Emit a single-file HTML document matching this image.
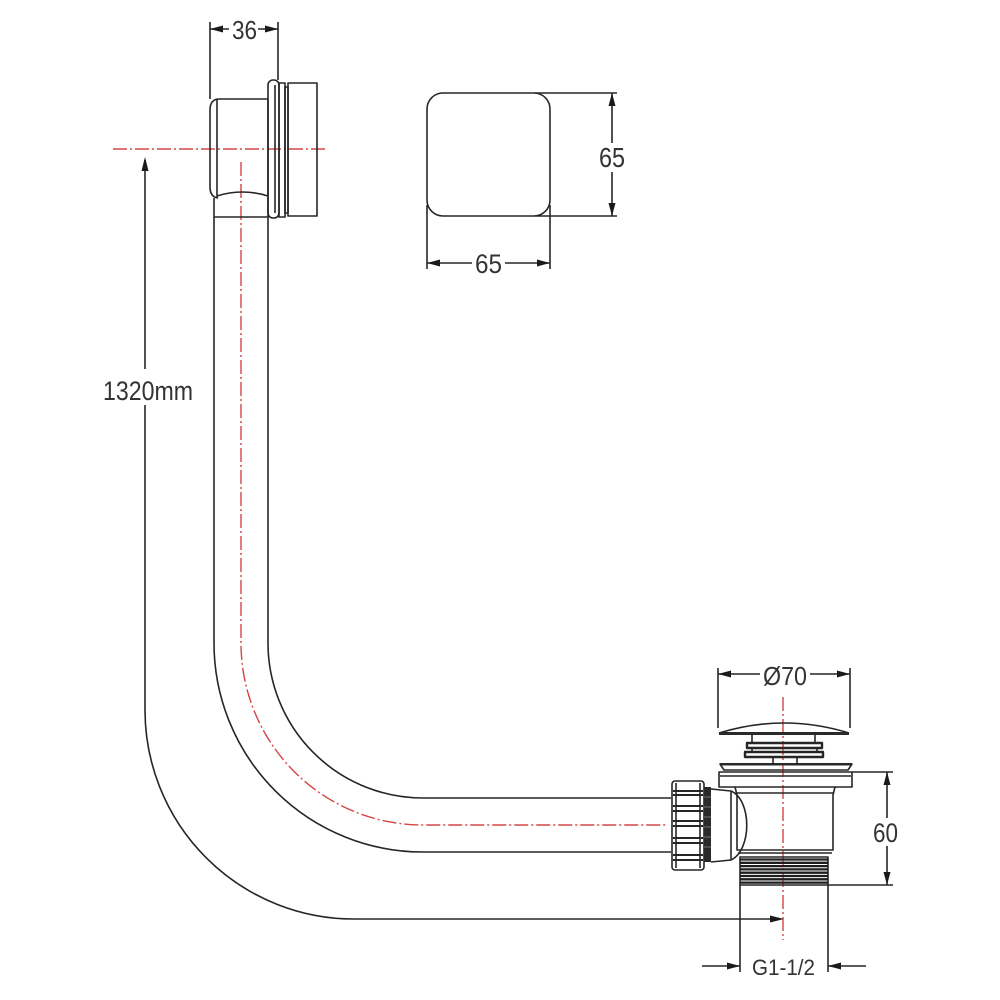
<!DOCTYPE html>
<html>
<head>
<meta charset="utf-8">
<style>
html,body{margin:0;padding:0;background:#fff;}
svg{display:block;}
text{font-family:"Liberation Sans","DejaVu Sans",sans-serif;fill:#333;}
</style>
</head>
<body>
<svg width="1000" height="1000" viewBox="0 0 1000 1000" xmlns="http://www.w3.org/2000/svg">
<rect width="1000" height="1000" fill="#fff"/>

<!-- Red center lines -->
<g stroke="#d64545" stroke-width="1.4" fill="none" stroke-dasharray="14 3 2 3">
  <path d="M113 149 H328"/>
  <path d="M241 162 V643 A182 182 0 0 0 423 825 H668"/>
  <path d="M783 697 V940"/>
</g>

<g stroke="#262626" stroke-width="1.6" fill="none" stroke-linejoin="round">
  <!-- Pipe -->
  <path d="M214 198 V643 A209 209 0 0 0 423 852 H671"/>
  <path d="M268 217 V643 A155 155 0 0 0 423 798 H671"/>
  <path d="M214 217 H268"/>

  <!-- Overflow head body -->
  <path d="M268 99 H218 Q210 100 210 110 V187 Q210 197 218 198"/>
  <path d="M217 99 V198"/>
  <path d="M217 196 Q242 188 268 196"/>
  <path d="M268 99 V217"/>
  <!-- flange -->
  <rect x="268" y="80" width="11" height="138" rx="5"/>
  <path d="M275 85 V213"/>
  <rect x="279" y="83" width="6" height="134"/>
  <rect x="285" y="87" width="3" height="126"/>
  <rect x="288" y="83" width="29" height="133"/>

  <!-- 36 dimension -->
  <path d="M210 22 V99"/>
  <path d="M278 22 V80"/>
  <path d="M210 29 H229 M258 29 H278"/>

  <!-- Square plate -->
  <rect x="427" y="93" width="123" height="123" rx="16"/>
  <path d="M535 93 H617"/>
  <path d="M535 216 H617"/>
  <path d="M612 93 V143 M612 172 V216"/>
  <path d="M427 205 V269"/>
  <path d="M550 205 V269"/>
  <path d="M427 263 H472 M505 263 H550"/>

  <!-- 1320mm dimension -->
  <path d="M145 160 V369"/>
  <path d="M145 405 V710 A209 209 0 0 0 354 919 H772"/>

  <!-- Ø70 dimension -->
  <path d="M718 668 V728"/>
  <path d="M850 668 V728"/>
  <path d="M718 674 H760 M810 674 H850"/>

  <!-- Drain cap -->
  <path d="M719 733 Q784 713 849 733"/>
  <path d="M752 735 V743 M815 735 V743"/>
  <rect x="747" y="743" width="75" height="5" stroke-width="2.4"/>
  <path d="M752 748 V752 M817 748 V752"/>
  <rect x="745" y="752" width="78" height="5" stroke-width="2.4"/>
  <rect x="773" y="757" width="24" height="7"/>
  <path d="M720 764 H852 L848 770 H724 Z"/>
  <rect x="719" y="772" width="133" height="15"/>
  <path d="M720 776 H851"/>
  <!-- body -->
  <path d="M735 787 L737 795 V850 H833 V795 L835 787"/>
  <path d="M737 793 H833"/>
  <path d="M738 853 H832"/>
  <!-- thread -->
  <rect x="740" y="857" width="88" height="28"/>
  <!-- extension lines below thread -->
  <path d="M740 885 V972"/>
  <path d="M828 885 V972"/>
  <path d="M702 966 H740"/>
  <path d="M828 966 H866"/>

  <!-- 60 dimension -->
  <path d="M852 772 H893"/>
  <path d="M828 885 H893"/>
  <path d="M887 772 V818 M887 846 V885"/>

  <!-- Nut -->
  <rect x="672" y="781" width="32" height="89" rx="3"/>
  <path d="M676 783 V868 M700 783 V868"/>
  <path d="M673 791 H703 M673 795 H703 M673 806 H703 M673 811 H703 M673 821 H703 M673 826 H703 M673 838 H703 M673 843 H703 M673 855 H703 M673 860 H703" stroke-width="1.9"/>
  <!-- bulb -->
  <path d="M711 789 L731 791 C752 800 752 850 731 860 L711 862"/>
  <path d="M731 791 V860"/>
</g>

<!-- Dark filled parts -->
<g fill="#2a2a2a" stroke="none">
  <rect x="719" y="732" width="130" height="3"/>
  <rect x="720" y="763" width="132" height="2.5"/>
  <rect x="704" y="787" width="7" height="75"/>
</g>
<!-- thread lines -->
<g stroke="#1e1e1e" stroke-width="2.3">
  <path d="M740 859.5 H828 M740 862.8 H828 M740 866.1 H828 M740 869.4 H828 M740 872.7 H828 M740 876 H828 M740 879.3 H828 M740 882.6 H828"/>
</g>
<!-- nut ring ridges (light) -->
<g stroke="#888" stroke-width="0.8">
  <path d="M704 797 H711 M704 807 H711 M704 817 H711 M704 827 H711 M704 837 H711 M704 847 H711"/>
</g>

<!-- Arrowheads -->
<g fill="#1a1a1a" stroke="none">
  <polygon points="210,29 223,25.5 223,32.5"/>
  <polygon points="278,29 265,25.5 265,32.5"/>
  <polygon points="612,93 608.5,106 615.5,106"/>
  <polygon points="612,216 608.5,203 615.5,203"/>
  <polygon points="427,263 440,259.5 440,266.5"/>
  <polygon points="550,263 537,259.5 537,266.5"/>
  <polygon points="145,157 141.5,171 148.5,171"/>
  <polygon points="784,919 770,915.5 770,922.5"/>
  <polygon points="718,674 731,670.5 731,677.5"/>
  <polygon points="850,674 837,670.5 837,677.5"/>
  <polygon points="887,772 883.5,785 890.5,785"/>
  <polygon points="887,885 883.5,872 890.5,872"/>
  <polygon points="740,966 727,962.5 727,969.5"/>
  <polygon points="828,966 841,962.5 841,969.5"/>
</g>

<!-- Text labels -->
<text x="232" y="39" font-size="26" textLength="25" lengthAdjust="spacingAndGlyphs">36</text>
<text x="599" y="167" font-size="28" textLength="26" lengthAdjust="spacingAndGlyphs">65</text>
<text x="475" y="273" font-size="27" textLength="27" lengthAdjust="spacingAndGlyphs">65</text>
<text x="103" y="400" font-size="27" textLength="90" lengthAdjust="spacingAndGlyphs">1320mm</text>
<text x="763" y="685" font-size="26" textLength="44" lengthAdjust="spacingAndGlyphs">Ø70</text>
<text x="873" y="842" font-size="27" textLength="25" lengthAdjust="spacingAndGlyphs">60</text>
<text x="752" y="975" font-size="22" textLength="63" lengthAdjust="spacingAndGlyphs">G1-1/2</text>
</svg>
</body>
</html>
